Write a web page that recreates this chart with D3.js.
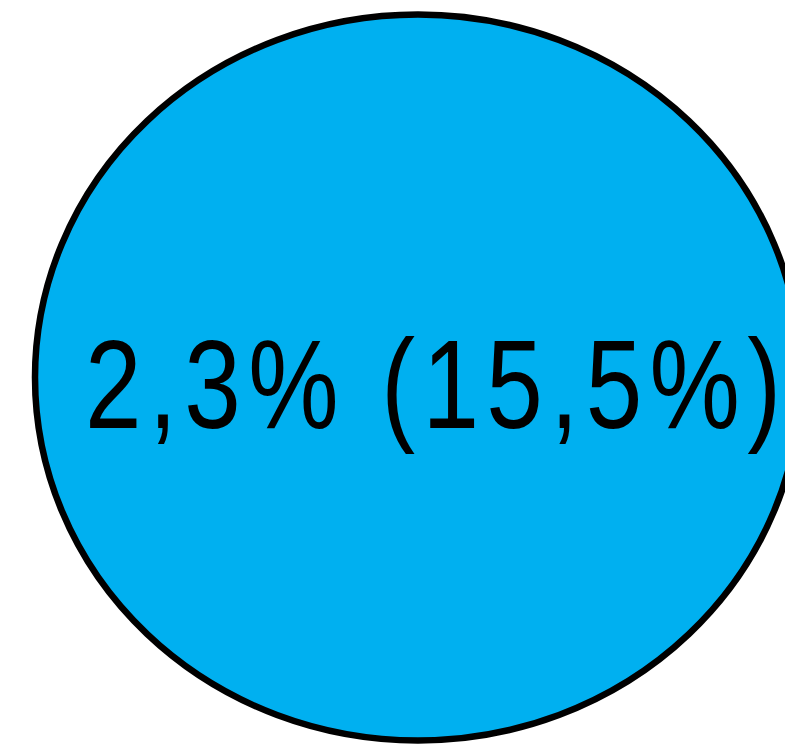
<!DOCTYPE html>
<html>
<head>
<meta charset="utf-8">
<script src="https://cdn.jsdelivr.net/npm/d3@7"></script>
<style>
  html, body { margin: 0; padding: 0; background: #fff; overflow: hidden; }
  svg { display: block; }
</style>
</head>
<body>
<svg id="chart" width="785" height="744"></svg>
<script>
// Data
const categories = ["Share"];
const values = [2.3];          // main percentage
const shareValues = [15.5];    // value in parentheses

const W = 785, H = 744;
const cx = 418, cy = 377.5;
const aspect = 363 / 383;      // vertical / horizontal radius

const locale = d3.formatLocale({ decimal: ",", thousands: ".", grouping: [3], currency: ["", " €"] });
const fmt = locale.format(".1f");

const rScale = d3.scaleSqrt().domain([0, d3.max(values)]).range([0, 383]);

const svg = d3.select("#chart");

const g = svg.selectAll("g.bubble")
  .data(categories.map((c, i) => ({ c, v: values[i], s: shareValues[i] })))
  .join("g")
  .attr("class", "bubble");

g.append("ellipse")
  .attr("cx", cx)
  .attr("cy", cy)
  .attr("rx", d => rScale(d.v))
  .attr("ry", d => rScale(d.v) * aspect)
  .attr("fill", "#00B0F0")
  .attr("stroke", "#000")
  .attr("stroke-width", 6.5);

const sx = 0.8;
g.append("text")
  .attr("transform", `translate(85,428) scale(${sx},1)`)
  .attr("x", 0)
  .attr("y", 0)
  .attr("font-family", "'Liberation Sans', Arial, sans-serif")
  .attr("font-size", 127)
  .attr("fill", "#000")
  .attr("textLength", 696 / sx)
  .attr("lengthAdjust", "spacing")
  .text(d => `${fmt(d.v)}% (${fmt(d.s)}%)`);
</script>
</body>
</html>
